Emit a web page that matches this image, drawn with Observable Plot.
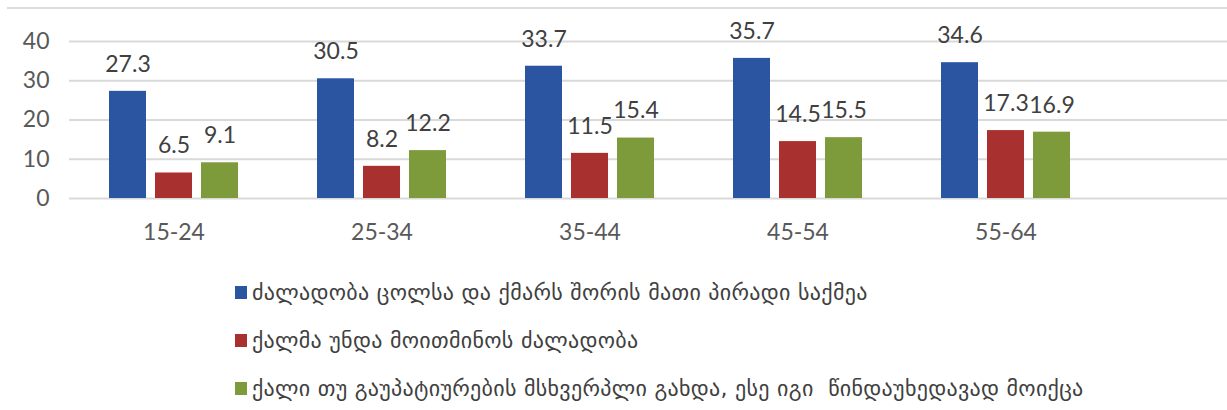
<!DOCTYPE html>
<html><head><meta charset="utf-8">
<script src="https://cdn.jsdelivr.net/npm/d3@7"></script>
<script src="https://cdn.jsdelivr.net/npm/@observablehq/plot@0.6"></script>
<style>
body{margin:0;background:#fff;}
#wrap{position:relative;width:1227px;height:410px;overflow:hidden;background:#fff;}
#topline{position:absolute;left:7px;right:0;top:7px;border-top:2px solid #dcdcdc;}
#chart{position:absolute;left:0;top:0;}
#legend{position:absolute;left:0;top:0;font-family:"DejaVu Sans";font-size:22px;letter-spacing:0.3px;color:#404040;}
.row{position:absolute;left:235px;white-space:pre;display:flex;align-items:center;height:26px;}
.sw{width:12px;height:13px;margin-right:5px;flex:none;}
</style></head>
<body>
<div id="wrap"><div id="topline"></div><div id="chart"></div><div id="legend"></div></div>
<script>
const ageGroups = ["15-24", "25-34", "35-44", "45-54", "55-64"];
const privateMatter = [27.3, 30.5, 33.7, 35.7, 34.6];
const shouldTolerate = [6.5, 8.2, 11.5, 14.5, 17.3];
const deservedIt = [9.1, 12.2, 15.4, 15.5, 16.9];
const seriesNames = [
  "ძალადობა ცოლსა და ქმარს შორის მათი პირადი საქმეა",
  "ქალმა უნდა მოითმინოს ძალადობა",
  "ქალი თუ გაუპატიურების მსხვერპლი გახდა, ესე იგი  წინდაუხედავად მოიქცა"
];
const seriesColors = ["#2b54a1", "#a8302f", "#7d9b3b"];
const yTicks = [0, 10, 20, 30, 40];

const seriesValues = [privateMatter, shouldTolerate, deservedIt];
const offsets = [-46, 0, 46];
const tables = seriesValues.map(vals => ageGroups.map((g, i) => ({group: g, value: vals[i]})));

const marks = [Plot.ruleY(yTicks, {stroke: "#d9d9d9", strokeWidth: 2})];
tables.forEach((t, k) => {
  marks.push(Plot.barY(t, {x: "group", y: "value", fill: seriesColors[k], dx: offsets[k]}));
});
tables.forEach((t, k) => {
  marks.push(Plot.text(t, {x: "group", y: "value", text: d => d.value.toFixed(1), dx: offsets[k], dy: -27,
    fontSize: 23, fill: "#404040"}));
});

const chart = Plot.plot({
  width: 1227, height: 255,
  marginLeft: 69, marginRight: 0, marginTop: 41, marginBottom: 57,
  style: {fontFamily: "Lato", fontSize: "23px", color: "#595959", background: "transparent"},
  x: {domain: ageGroups, range: [68.2, 1111.2], paddingInner: 0.8226, paddingOuter: 0.4113,
      tickSize: 0, tickPadding: 25, label: null},
  y: {domain: [0, 40], ticks: yTicks, tickSize: 0, tickPadding: 20, label: null},
  marks
});
document.getElementById("chart").appendChild(chart);

const legend = document.getElementById("legend");
const rowCenters = [292, 340, 388];
seriesNames.forEach((name, k) => {
  const row = document.createElement("div");
  row.className = "row";
  row.style.top = (rowCenters[k] - 13) + "px";
  const sw = document.createElement("span");
  sw.className = "sw"; sw.style.background = seriesColors[k];
  const tx = document.createElement("span");
  tx.textContent = name;
  row.appendChild(sw); row.appendChild(tx);
  legend.appendChild(row);
});
</script>
</body></html>
